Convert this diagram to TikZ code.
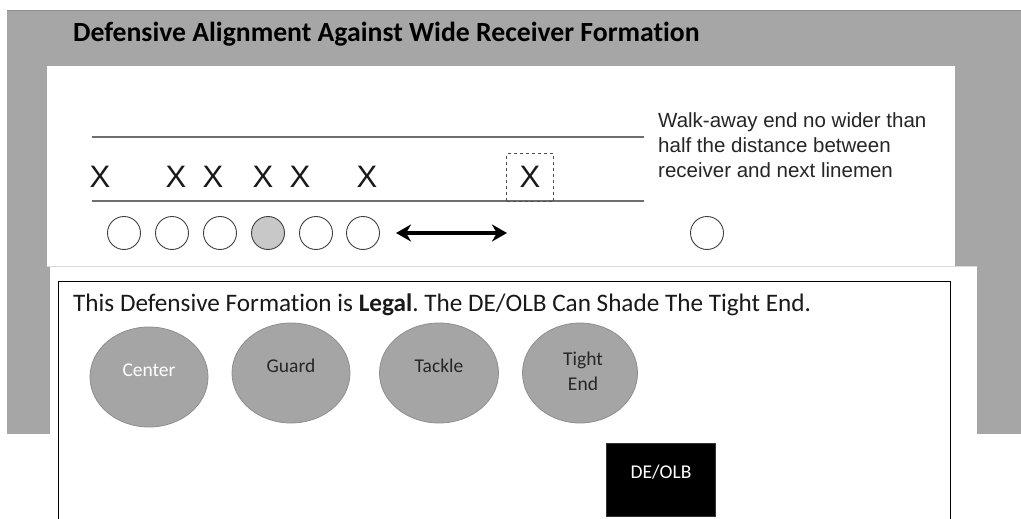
\documentclass[tikz,border=0pt]{standalone}
\usepackage{fontspec}
\setmainfont{Carlito}[Ligatures=NoCommon]
\newfontfamily\arialf{Liberation Sans}
\usetikzlibrary{arrows.meta,shapes.geometric}
\frenchspacing
\definecolor{frameg}{HTML}{A6A6A6}
\definecolor{ellg}{HTML}{A5A5A5}
\definecolor{ellb}{HTML}{8E8E8E}
\definecolor{lineg}{HTML}{6E6E6E}
\definecolor{circg}{HTML}{C8C8C8}
\tikzset{
  x=1pt, y=-1pt,
  xmark/.style={font=\arialf\fontsize{31}{31}\selectfont, inner sep=0pt, text=black!90},
  player/.style={circle, draw=black!75, line width=0.9pt, minimum size=33pt, inner sep=0pt},
  lineman/.style={ellipse, fill=ellg, draw=ellb, line width=0.8pt, inner sep=0pt,
     minimum width=118pt, minimum height=100pt},
  elltext/.style={font=\fontsize{19.5}{25}\selectfont, text=black!85, align=center, inner sep=0pt},
  fieldline/.style={draw=lineg, line width=1.3pt},
}
\begin{document}
\begin{tikzpicture}
\useasboundingbox (0,0) rectangle (1021,519);
% gray frame
\fill[frameg] (7,10) rectangle (1021,434);
\draw[black!45, line width=1pt] (7,10.5) -- (1021,10.5);
% white panels
\fill[white] (47,66) rectangle (955,266);
\fill[white] (50,266) rectangle (977,519);
\draw[black!15, line width=0.8pt] (47,266.5) -- (977,266.5);
% title
\node[anchor=base west, inner sep=0pt, font=\bfseries\fontsize{27.7}{30}\selectfont] (title) at (73,42) {Defensive Alignment Against Wide Receiver Formation};
% field lines
\draw[fieldline] (92,137) -- (644,137);
\draw[fieldline] (92,201) -- (644,201);
% offense X marks
\node[xmark] (x1) at (100,177) {X};
\node[xmark] (x2) at (176,177) {X};
\node[xmark] (x3) at (213,177) {X};
\node[xmark] (x4) at (263,177) {X};
\node[xmark] (x5) at (300,177) {X};
\node[xmark] (x6) at (367,177) {X};
\node[xmark] (x7) at (530,177) {X};
\node[draw=black!70, dashed, dash pattern=on 3pt off 3pt, line width=1pt, minimum width=47pt, minimum height=48pt, inner sep=0pt] (xbox) at (530,177.5) {};
% defense circles
\node[player] (c1) at (124,233) {};
\node[player] (c2) at (172,233) {};
\node[player] (c3) at (220,233) {};
\node[player, fill=circg] (c4) at (268,233) {};
\node[player] (c5) at (316,233) {};
\node[player] (c6) at (363,233) {};
\node[player] (c7) at (707,233) {};
% arrow
\coordinate (aL) at (396,233);
\coordinate (aR) at (507,233);
\draw[line width=3.8pt, {Stealth[length=15pt,width=17pt]}-{Stealth[length=15pt,width=17pt]}] (aL) -- (aR);
% note
\node[anchor=north west, inner sep=0pt, align=left, font=\arialf\fontsize{20.5}{25}\selectfont, text=black!85] (note) at (658,112) {Walk-away end no wider than\\half the distance between\\receiver and next linemen};
% lower box
\draw[black, line width=1pt] (58,519.5) -- (58,281) -- (950,281) -- (950,519.5);
\node[anchor=base west, inner sep=0pt, font=\fontsize{25.2}{30}\selectfont, text=black!90] (legal) at (73,311.5) {This Defensive Formation is \textbf{Legal}. The DE/OLB Can Shade The Tight End.};
% linemen
\node[lineman] (center) at (149,377) {};
\node[elltext, text=white] (centert) at (149,370) {Center};
\node[lineman] (guard) at (291,373) {};
\node[elltext] (guardt) at (291,366) {Guard};
\node[lineman, minimum width=119pt] (tackle) at (439,373) {};
\node[elltext] (tacklet) at (439,366) {Tackle};
\node[lineman, minimum width=115pt] (tight) at (580,373) {};
\node[elltext] (tightt) at (583,371) {Tight\\End};
% DE/OLB
\node[fill=black, draw=black!80, minimum width=109pt, minimum height=73pt, inner sep=0pt] (deolb) at (660.5,479.5) {};
\node[elltext, text=white] (deolbt) at (661,472) {DE/OLB};
\end{tikzpicture}
\end{document}
